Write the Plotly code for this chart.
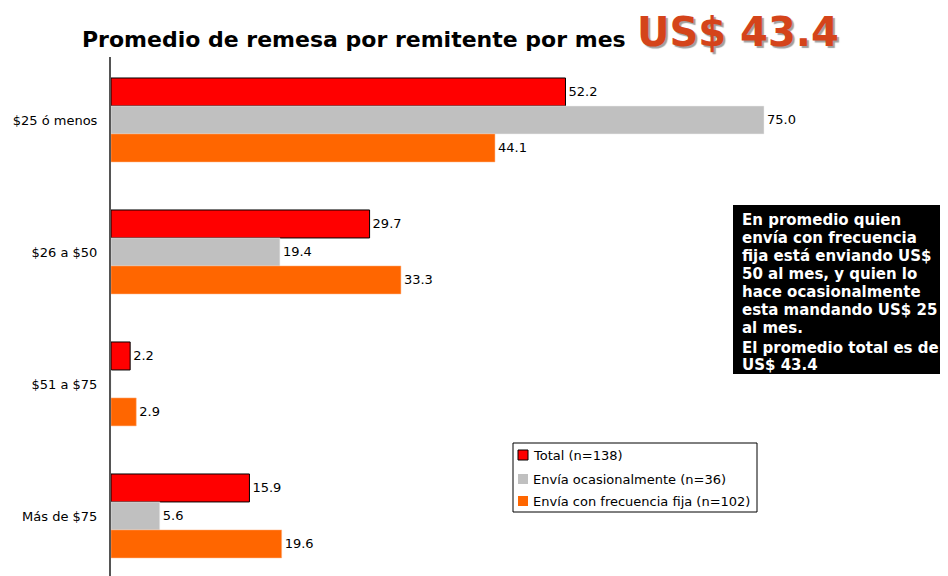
import plotly.graph_objects as go

categories = ["$25 ó menos", "$26 a $50", "$51 a $75", "Más de $75"]
total = [52.2, 29.7, 2.2, 15.9]
ocasional = [75.0, 19.4, 0.0, 5.6]
fija = [44.1, 33.3, 2.9, 19.6]
series_names = ["Total (n=138)", "Envía ocasionalmente (n=36)", "Envía con frecuencia fija (n=102)"]
title_text = "Promedio de remesa por remitente por mes"
title_value = "US$ 43.4"
note_lines = ["En promedio quien", "envía con frecuencia", "fija está enviando US$",
              "50 al mes, y quien lo", "hace ocasionalmente", "esta mandando US$ 25",
              "al mes.", "El promedio total es de:", "US$ 43.4"]

# page has an 8px body margin; figure is drawn at (8, 8)
OFF = 8
W, H = 948 - OFF, 576 - OFF
L, T = 111 - OFF, 57 - OFF
FONT = "DejaVu Sans"

def xp(px):
    return (px - OFF - L) / (W - L)

def yp(py):
    return (H - (py - OFF)) / (H - T)

def labels(vals):
    return ["" if v == 0 else f"{v:.1f}" for v in vals]

colors = ["#FF0000", "#C0C0C0", "#FF6600"]
lines = [dict(color="#000000", width=1), dict(color="#EEEEEE", width=0.5), dict(color="#FFB380", width=0.5)]

fig = go.Figure()
for name, vals, col, ln in zip(series_names, [total, ocasional, fija], colors, lines):
    fig.add_trace(go.Bar(
        y=categories, x=vals, orientation="h", name=name,
        marker=dict(color=col, line=ln),
        text=labels(vals), textposition="outside", cliponaxis=False,
        textfont=dict(family=FONT, size=13, color="#000000"),
        showlegend=False,
    ))

fig.update_layout(
    width=W, height=H,
    margin=dict(l=L, r=0, t=T, b=0),
    paper_bgcolor="white", plot_bgcolor="white",
    barmode="group", bargap=0.364, bargroupgap=0,
    font=dict(family=FONT, size=13, color="#000000"),
    xaxis=dict(range=[0, (W - L) / (653 / 75.0)], visible=False),
    yaxis=dict(range=[3.455, -0.477], showline=True, linecolor="#555555", linewidth=2,
               ticks="", ticklabelstandoff=9, showgrid=False,
               tickfont=dict(family=FONT, size=13, color="#000000")),
)

shapes = []
annotations = []

# Title
annotations.append(dict(x=xp(80), y=yp(40), xref="paper", yref="paper", text=title_text,
                        showarrow=False, xanchor="left", yanchor="middle",
                        font=dict(family=FONT, size=22, color="#000000", weight="bold")))
annotations.append(dict(x=xp(635), y=yp(32), xref="paper", yref="paper", text=title_value,
                        showarrow=False, xanchor="left", yanchor="middle",
                        font=dict(family=FONT, size=40, color="#D4441A", weight="bold",
                                  shadow="2px 2px 1px #A0A0A0")))

# Note box
shapes.append(dict(type="rect", xref="paper", yref="paper", x0=xp(733), x1=xp(946),
                   y0=yp(374), y1=yp(205), fillcolor="#000000", line=dict(width=0), layer="above"))
note_y = [220, 238, 256, 274, 292, 310, 328, 348, 365]
for txt, py in zip(note_lines, note_y):
    annotations.append(dict(x=xp(740), y=yp(py), xref="paper", yref="paper", text=txt,
                            showarrow=False, xanchor="left", yanchor="middle",
                            font=dict(family=FONT, size=15, color="#FFFFFF", weight="bold")))

# Legend
shapes.append(dict(type="rect", xref="paper", yref="paper", x0=xp(513), x1=xp(757),
                   y0=yp(512), y1=yp(443), fillcolor="white", line=dict(color="#000000", width=1),
                   layer="above"))
leg_y = [455, 479, 501]
for name, col, py, k in zip(series_names, colors, leg_y, range(3)):
    shapes.append(dict(type="rect", xref="paper", yref="paper", x0=xp(518), x1=xp(528),
                       y0=yp(py + 5), y1=yp(py - 5), fillcolor=col,
                       line=dict(color="#000000", width=1) if k == 0 else dict(width=0),
                       layer="above"))
    annotations.append(dict(x=xp(531), y=yp(py), xref="paper", yref="paper", text=name,
                            showarrow=False, xanchor="left", yanchor="middle",
                            font=dict(family=FONT, size=13, color="#000000")))

fig.update_layout(shapes=shapes, annotations=annotations)
fig.write_html("out.html")
